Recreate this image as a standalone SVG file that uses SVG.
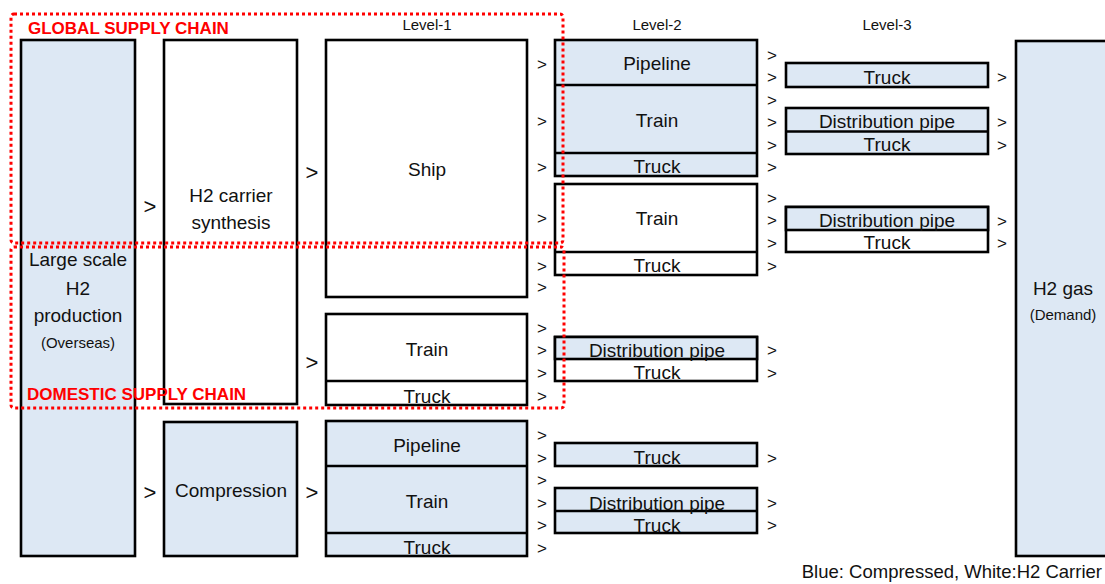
<svg xmlns="http://www.w3.org/2000/svg" width="1105" height="584" viewBox="0 0 1105 584">
<style>
.b{fill:#dde8f4;stroke:#000;stroke-width:2.6}
.w{fill:#fff;stroke:#000;stroke-width:2.6}
.ln{stroke:#000;stroke-width:2.6;fill:none}
text{font-family:"Liberation Sans",Arial,sans-serif;fill:#111}
.t{font-size:19px;text-anchor:middle}
.s{font-size:15px;text-anchor:middle}
.lv{font-size:15px;text-anchor:middle}
.c{font-size:17px;text-anchor:middle}
.cb{font-size:22px;text-anchor:middle}
.red{fill:none;stroke:#f00;stroke-width:3;stroke-dasharray:3 3}
.rl{font-size:17px;font-weight:bold;fill:#f00}
</style>
<rect width="1105" height="584" fill="#fff"/>
<g id="level-labels">
<text class="lv" x="427" y="30">Level-1</text>
<text class="lv" x="657" y="30">Level-2</text>
<text class="lv" x="887" y="30">Level-3</text>
</g>
<g id="production">
<rect class="b" x="21" y="40" width="114" height="516"/>
<text class="t" x="78" y="266">Large scale</text>
<text class="t" x="78" y="295">H2</text>
<text class="t" x="78" y="322">production</text>
<text class="s" x="78" y="348">(Overseas)</text>
</g>
<g id="synthesis">
<rect class="w" x="164" y="40" width="133" height="364"/>
<text class="t" x="231" y="202">H2 carrier</text>
<text class="t" x="231" y="229">synthesis</text>
</g>
<g id="compression">
<rect class="b" x="164" y="422" width="133" height="134"/>
<text class="t" x="231" y="497">Compression</text>
</g>
<g id="l1-ship">
<rect class="w" x="326" y="40" width="201" height="257"/>
<text class="t" x="427" y="176">Ship</text>
</g>
<g id="l1-carrier">
<rect class="w" x="326" y="314" width="201" height="91"/>
<line class="ln" x1="326" y1="381" x2="527" y2="381"/>
<text class="t" x="427" y="356">Train</text>
<text class="t" x="427" y="403">Truck</text>
</g>
<g id="l1-compressed">
<rect class="b" x="326" y="421" width="201" height="135"/>
<line class="ln" x1="326" y1="466" x2="527" y2="466"/>
<line class="ln" x1="326" y1="533" x2="527" y2="533"/>
<text class="t" x="427" y="452">Pipeline</text>
<text class="t" x="427" y="508">Train</text>
<text class="t" x="427" y="554">Truck</text>
</g>
<g id="l2-ship-compressed">
<rect class="b" x="555" y="40" width="202" height="136"/>
<line class="ln" x1="555" y1="85" x2="757" y2="85"/>
<line class="ln" x1="555" y1="153" x2="757" y2="153"/>
<text class="t" x="657" y="70">Pipeline</text>
<text class="t" x="657" y="127">Train</text>
<text class="t" x="657" y="173">Truck</text>
</g>
<g id="l2-ship-carrier">
<rect class="w" x="555" y="184" width="202" height="91"/>
<line class="ln" x1="555" y1="252" x2="757" y2="252"/>
<text class="t" x="657" y="225">Train</text>
<text class="t" x="657" y="272">Truck</text>
</g>
<g id="l2-domestic">
<rect class="w" x="555" y="337" width="202" height="44"/>
<rect class="b" x="555" y="337" width="202" height="22"/>
<text class="t" x="657" y="357">Distribution pipe</text>
<text class="t" x="657" y="379">Truck</text>
</g>
<g id="l2-compressed-truck">
<rect class="b" x="555" y="443" width="202" height="23"/>
<text class="t" x="657" y="464">Truck</text>
</g>
<g id="l2-compressed-train">
<rect class="b" x="555" y="488" width="202" height="45"/>
<line class="ln" x1="555" y1="511" x2="757" y2="511"/>
<text class="t" x="657" y="510">Distribution pipe</text>
<text class="t" x="657" y="532">Truck</text>
</g>
<g id="l3-pipeline-truck">
<rect class="b" x="786" y="63" width="202" height="24"/>
<text class="t" x="887" y="84">Truck</text>
</g>
<g id="l3-train">
<rect class="b" x="786" y="108" width="202" height="46"/>
<line class="ln" x1="786" y1="131.5" x2="988" y2="131.5"/>
<text class="t" x="887" y="128">Distribution pipe</text>
<text class="t" x="887" y="151">Truck</text>
</g>
<g id="l3-carrier-train">
<rect class="w" x="786" y="207" width="202" height="45"/>
<rect class="b" x="786" y="207" width="202" height="23"/>
<text class="t" x="887" y="227">Distribution pipe</text>
<text class="t" x="887" y="249">Truck</text>
</g>
<g id="demand">
<rect class="b" x="1016" y="41" width="100" height="515"/>
<text class="t" x="1063" y="295">H2 gas</text>
<text class="s" x="1063" y="320">(Demand)</text>
</g>
<g id="connectors">
<text class="cb" x="150" y="214">&gt;</text>
<text class="cb" x="150" y="500">&gt;</text>
<text class="cb" x="312" y="180">&gt;</text>
<text class="cb" x="312" y="370">&gt;</text>
<text class="cb" x="312" y="500">&gt;</text>
<text class="c" x="542" y="70">&gt;</text>
<text class="c" x="542" y="127">&gt;</text>
<text class="c" x="542" y="173">&gt;</text>
<text class="c" x="542" y="224">&gt;</text>
<text class="c" x="542" y="272">&gt;</text>
<text class="c" x="542" y="293">&gt;</text>
<text class="c" x="542" y="334">&gt;</text>
<text class="c" x="542" y="356">&gt;</text>
<text class="c" x="542" y="379">&gt;</text>
<text class="c" x="542" y="402">&gt;</text>
<text class="c" x="542" y="441">&gt;</text>
<text class="c" x="542" y="464">&gt;</text>
<text class="c" x="542" y="486">&gt;</text>
<text class="c" x="542" y="509">&gt;</text>
<text class="c" x="542" y="531">&gt;</text>
<text class="c" x="542" y="554">&gt;</text>
<text class="c" x="772" y="61">&gt;</text>
<text class="c" x="772" y="83">&gt;</text>
<text class="c" x="772" y="106">&gt;</text>
<text class="c" x="772" y="128">&gt;</text>
<text class="c" x="772" y="151">&gt;</text>
<text class="c" x="772" y="173">&gt;</text>
<text class="c" x="772" y="204">&gt;</text>
<text class="c" x="772" y="226">&gt;</text>
<text class="c" x="772" y="249">&gt;</text>
<text class="c" x="772" y="272">&gt;</text>
<text class="c" x="772" y="356">&gt;</text>
<text class="c" x="772" y="379">&gt;</text>
<text class="c" x="772" y="464">&gt;</text>
<text class="c" x="772" y="509">&gt;</text>
<text class="c" x="772" y="531">&gt;</text>
<text class="c" x="1002" y="83">&gt;</text>
<text class="c" x="1002" y="128">&gt;</text>
<text class="c" x="1002" y="151">&gt;</text>
<text class="c" x="1002" y="227">&gt;</text>
<text class="c" x="1002" y="249">&gt;</text>
</g>
<g id="global-supply-chain">
<rect class="red" x="11" y="14" width="552" height="229" rx="3"/>
<text class="rl" x="28" y="34">GLOBAL SUPPLY CHAIN</text>
</g>
<g id="domestic-supply-chain">
<rect class="red" x="11" y="247" width="553" height="161" rx="3"/>
<text class="rl" x="27" y="400">DOMESTIC SUPPLY CHAIN</text>
</g>
<g id="legend">
<text x="1102" y="578" style="font-size:18.5px;text-anchor:end">Blue: Compressed, White:H2 Carrier</text>
</g>
</svg>
